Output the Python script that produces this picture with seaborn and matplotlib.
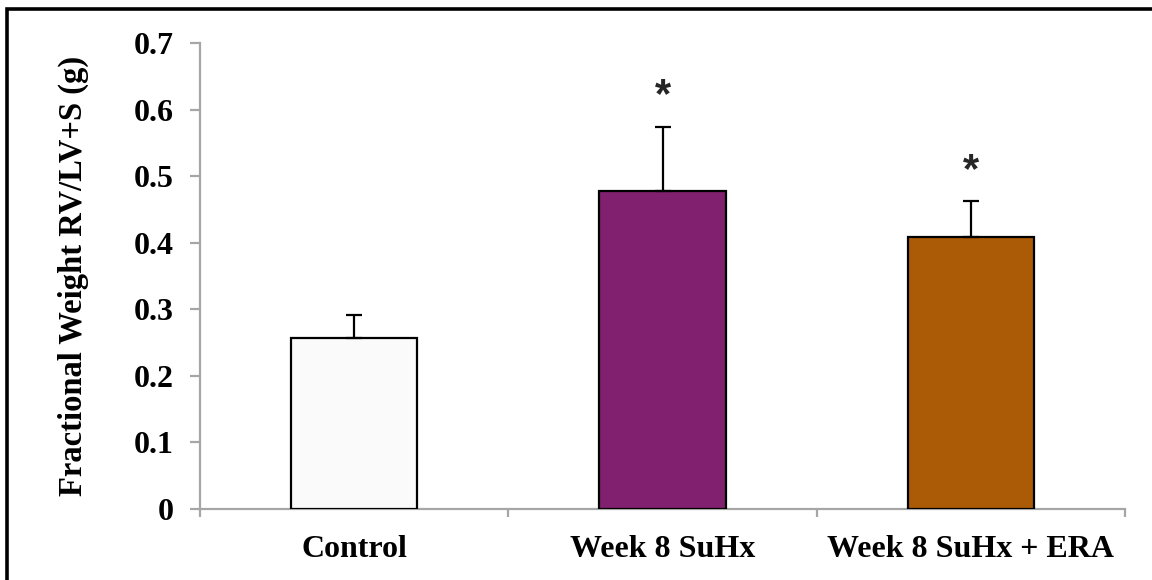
import matplotlib
matplotlib.use("Agg")
import matplotlib.pyplot as plt
from matplotlib.patches import Rectangle
import seaborn as sns
import numpy as np

# Data
groups = ["Control", "Week 8 SuHx", "Week 8 SuHx + ERA"]
fractional_weight = [0.257, 0.477, 0.408]
sem = [0.035, 0.097, 0.054]
significant = [False, True, True]
bar_colors = ["#FAFAFA", "#80206E", "#AB5B06"]
yticks = [0, 0.1, 0.2, 0.3, 0.4, 0.5, 0.6, 0.7]
ytick_labels = ["0", "0.1", "0.2", "0.3", "0.4", "0.5", "0.6", "0.7"]

sns.set_theme(style="white")
plt.rcParams["font.family"] = ["Liberation Serif", "DejaVu Serif"]
plt.rcParams["font.weight"] = "bold"

fig = plt.figure(figsize=(11.52, 5.80), dpi=100)
ax = fig.add_axes([0.1736, 0.1224, 0.9766 - 0.1736, 0.9259 - 0.1224])

sns.barplot(x=groups, y=fractional_weight, hue=groups, palette=bar_colors,
            legend=False, edgecolor="black", linewidth=1.6, width=0.41,
            errorbar=None, saturation=1, ax=ax, zorder=3)

xpos = np.arange(len(groups))
ax.errorbar(xpos, fractional_weight, yerr=[np.zeros(len(sem)), sem],
            fmt="none", ecolor="black", elinewidth=1.6, capsize=5.8,
            capthick=1.6, zorder=4)

for x, v, e, sig in zip(xpos, fractional_weight, sem, significant):
    if sig:
        ax.text(x, v + e + 0.046, "*", ha="center", va="center",
                fontsize=30, fontweight="bold",
                family=["Liberation Sans", "DejaVu Sans"])

ax.set_xlim(-0.5, 2.5)
ax.set_ylim(0, 0.7)
ax.set_yticks(yticks)
ax.set_yticklabels(ytick_labels)
ax.set_xticks(xpos)
ax.set_xticks([-0.5, 0.5, 1.5, 2.5], minor=True)

axis_gray = "#A6A6A6"
for side in ["top", "right"]:
    ax.spines[side].set_visible(False)
for side in ["left", "bottom"]:
    ax.spines[side].set_color(axis_gray)
    ax.spines[side].set_linewidth(1.6)

ax.tick_params(axis="y", which="major", direction="out", length=7,
               width=1.6, color=axis_gray, labelsize=23, pad=12,
               left=True)
ax.tick_params(axis="x", which="major", length=0, labelsize=23, pad=19,
               bottom=True)
ax.tick_params(axis="x", which="minor", direction="out", length=6,
               width=1.6, color=axis_gray, bottom=True)
for lbl in ax.get_xticklabels() + ax.get_yticklabels():
    lbl.set_fontweight("bold")
    lbl.set_color("black")

ax.set_xlabel("")
ax.set_ylabel("Fractional Weight RV/LV+S (g)", fontsize=23.5,
              fontweight="bold", color="black", labelpad=32)
ax.grid(False)

# Outer frame around the figure
fig.patches.append(Rectangle((7 / 1152, -0.05), 1.2, 1 - 9 / 580 + 0.05,
                             transform=fig.transFigure, fill=False,
                             edgecolor="black", linewidth=2.6,
                             zorder=10))

fig.savefig("out.png", dpi=100)
